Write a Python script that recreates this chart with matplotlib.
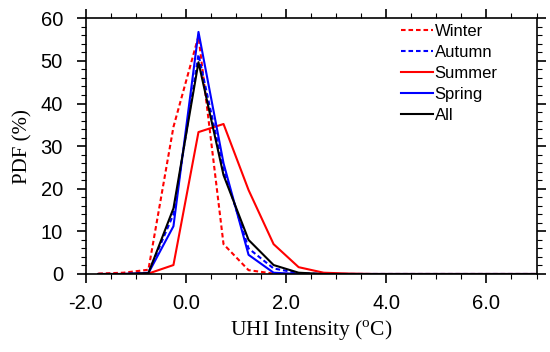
import numpy as np
import matplotlib.pyplot as plt
from matplotlib.ticker import MultipleLocator

plt.rcParams['mathtext.fontset'] = 'custom'
plt.rcParams['mathtext.rm'] = 'Liberation Serif'

# bin centres (degC)
x = [-1.75, -1.25, -0.75, -0.25, 0.25, 0.75, 1.25, 1.75, 2.25, 2.75, 3.25,
     3.75, 4.25, 4.75, 5.25, 5.75, 6.25, 6.75, 7.25]

winter = [0.1, 0.3, 1.0, 34.5, 55.8, 7.0, 0.9, 0.1, 0, 0, 0, 0, 0, 0, 0, 0, 0, 0, 0]
autumn = [0, 0, 0.3, 14.0, 51.5, 24.5, 6.0, 1.3, 0.2, 0, 0, 0, 0, 0, 0, 0, 0, 0, 0]
summer = [0, 0, 0.1, 2.1, 33.3, 35.2, 19.7, 7.0, 1.6, 0.3, 0.1, 0, 0, 0, 0, 0, 0, 0, 0]
spring = [0, 0, 0.2, 11.2, 56.8, 26.0, 4.5, 0.3, 0, 0, 0, 0, 0, 0, 0, 0, 0, 0, 0]
all_seasons = [0, 0, 0.2, 15.4, 49.7, 23.2, 8.0, 2.1, 0.3, 0, 0, 0, 0, 0, 0, 0, 0, 0, 0]

fig = plt.figure(figsize=(5.5, 3.52), dpi=100)
ax = fig.add_axes([0.156, 0.2216, 0.8195, 0.7264])

dash = (0, (2.2, 1.4))
ax.plot(x, winter, color='red', lw=1.5, linestyle=dash, label='Winter')
ax.plot(x, autumn, color='blue', lw=1.5, linestyle=dash, label='Autumn')
ax.plot(x, summer, color='red', lw=1.5, label='Summer')
ax.plot(x, spring, color='blue', lw=1.5, label='Spring')
ax.plot(x, all_seasons, color='black', lw=1.5, label='All')

ax.set_xlim(-2, 7)
ax.set_ylim(0, 60)
ax.xaxis.set_major_locator(MultipleLocator(2))
ax.xaxis.set_minor_locator(MultipleLocator(0.5))
ax.yaxis.set_major_locator(MultipleLocator(10))
ax.yaxis.set_minor_locator(MultipleLocator(2))
ax.set_xticks([-2, 0, 2, 4, 6])
ax.set_xticklabels(['-2.0', '0.0', '2.0', '4.0', '6.0'])

ax.tick_params(which='both', direction='out', top=True, right=True,
               labelsize=14.5, width=1.2)
ax.tick_params(which='major', length=6.5)
ax.tick_params(which='minor', length=3.5, width=0.8)
ax.tick_params(axis='x', which='major', pad=8)
ax.tick_params(axis='y', which='major', pad=10)
for lab in ax.get_xticklabels() + ax.get_yticklabels():
    lab.set_family('Liberation Sans')
for s in ax.spines.values():
    s.set_linewidth(1.2)

ax.set_xlabel(r'UHI Intensity ($^{\rm o}$C)', family='Liberation Serif',
              fontsize=15.5, labelpad=4)
ax.set_ylabel('PDF (%)', family='Liberation Serif', fontsize=15, labelpad=6)

ax.legend(loc='upper right', bbox_to_anchor=(0.936, 1.017), frameon=False,
          prop={'family': 'Liberation Sans', 'size': 12},
          handlelength=1.9, handletextpad=0.1, labelspacing=0.36,
          borderaxespad=0.2)

fig.savefig('out.png', dpi=100)
